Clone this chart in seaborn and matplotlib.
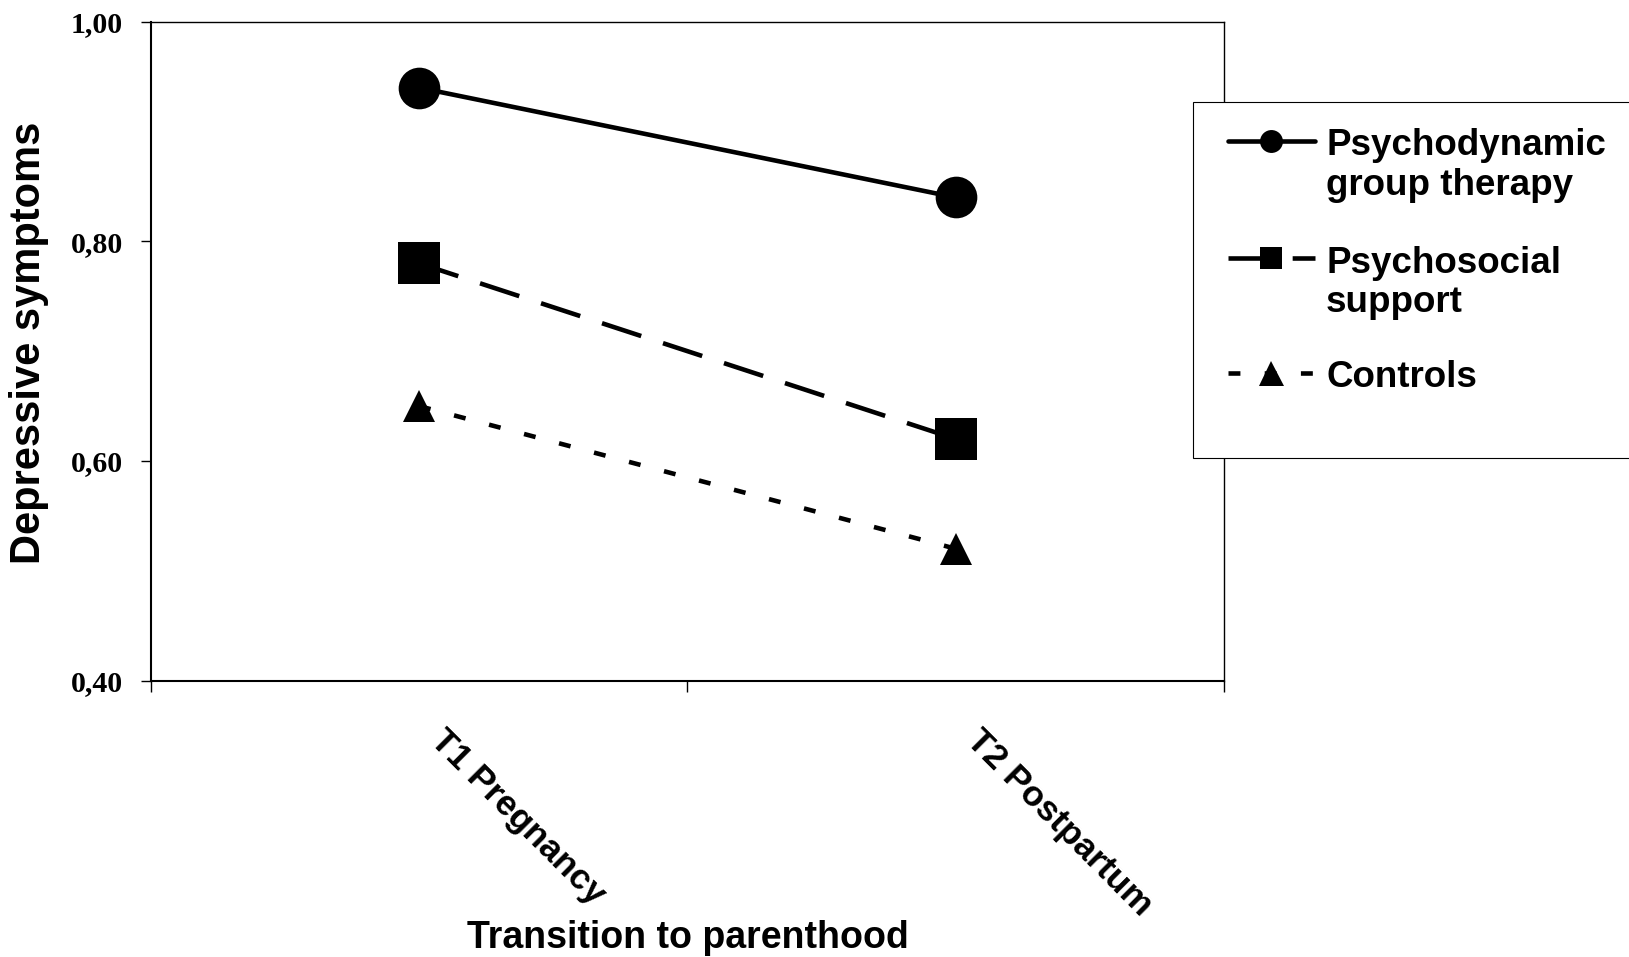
import pandas as pd
import seaborn as sns
import matplotlib.pyplot as plt
from matplotlib.lines import Line2D
from matplotlib.patches import Rectangle
from matplotlib.transforms import ScaledTranslation

# data
times = ["T1 Pregnancy", "T2 Postpartum"]
groups = ["Psychodynamic group therapy", "Psychosocial support", "Controls"]
psychodynamic = [0.94, 0.84]
psychosocial = [0.78, 0.62]
controls = [0.65, 0.52]
y_ticks = [0.40, 0.60, 0.80, 1.00]
y_tick_labels = ["0,40", "0,60", "0,80", "1,00"]
legend_labels = [["Psychodynamic", "group therapy"], ["Psychosocial", "support"], ["Controls"]]

df = pd.DataFrame({
    "time": times * len(groups),
    "group": [g for g in groups for _ in times],
    "value": psychodynamic + psychosocial + controls,
})

sns.set_style("ticks")
plt.rcParams["font.family"] = ["Liberation Sans", "DejaVu Sans"]
plt.rcParams["font.weight"] = "bold"
plt.rcParams["axes.labelweight"] = "bold"
for key in ["text.color", "axes.labelcolor", "xtick.color", "ytick.color", "axes.edgecolor"]:
    plt.rcParams[key] = "black"

markers = {groups[0]: "o", groups[1]: "s", groups[2]: "^"}
dashes = {groups[0]: "", groups[1]: (9, 5), groups[2]: (2.6, 5.3)}
plot_sizes = {groups[0]: 30, groups[1]: 30, groups[2]: 23}
legend_sizes = {groups[0]: 16.5, groups[1]: 16.5, groups[2]: 18}

fig = plt.figure(figsize=(16.29, 9.57), dpi=100)
ax = fig.add_axes([0.0925, 0.2889, 0.659, 0.6883])

sns.lineplot(data=df, x="time", y="value", hue="group", style="group",
             hue_order=groups, style_order=groups,
             palette={g: "black" for g in groups}, markers=markers, dashes=dashes,
             linewidth=3.3, markersize=30, markeredgewidth=0, markeredgecolor="black",
             errorbar=None, legend=False, ax=ax)
for line, g in zip(ax.lines, groups):
    line.set_markersize(plot_sizes[g])

ax.set_xlim(-0.5, 1.5)
ax.set_ylim(0.4, 1.0)
ax.set_yticks(y_ticks)
ax.set_yticklabels(y_tick_labels, fontfamily="Liberation Serif", fontsize=21.5, fontweight="bold")
ax.set_xticks([0, 1])
ax.set_xticklabels(times, rotation=-45, ha="left", va="top", rotation_mode="anchor", fontsize=25.5)
ax.set_xticks([-0.5, 0.5, 1.5], minor=True)
ax.tick_params(axis="x", which="major", length=0, pad=31)
ax.tick_params(axis="x", which="minor", length=8, width=1, direction="out")
ax.tick_params(axis="y", length=7.5, width=1, pad=12.7, direction="out")
shift = ScaledTranslation(0.28, 0, fig.dpi_scale_trans)
for lab in ax.get_xticklabels():
    lab.set_transform(lab.get_transform() + shift)

for side in ["left", "bottom"]:
    ax.spines[side].set_linewidth(1.5)
for side in ["top", "right"]:
    ax.spines[side].set_linewidth(1.0)
for side in ax.spines:
    ax.spines[side].set_visible(True)

ax.set_ylabel("Depressive symptoms", fontsize=30)
ax.yaxis.set_label_coords(-0.0947, 0.512)
ax.set_xlabel("Transition to parenthood", fontsize=27)
ax.xaxis.set_label_coords(0.5, -0.363)

# legend box drawn by hand (Excel style, runs off the right edge)
fig.add_artist(Rectangle((0.7322, 0.5214), 0.3, 0.372, transform=fig.transFigure,
                         facecolor="white", edgecolor="black", lw=0.8))
handle_y = [0.8527, 0.7304, 0.6102]
text_y = [[0.8380, 0.7962], [0.7150, 0.6743], [0.5959]]
for g, hy, labels, ty in zip(groups, handle_y, legend_labels, text_y):
    h = Line2D([0.7538, 0.8073], [hy, hy], transform=fig.transFigure, color="black", lw=3.3)
    h.set_dashes(dashes[g])
    fig.add_artist(h)
    fig.add_artist(Line2D([0.7805], [hy], transform=fig.transFigure, linestyle="none",
                          marker=markers[g], markersize=legend_sizes[g], color="black", mew=0))
    for txt, y in zip(labels, ty):
        fig.text(0.8140, y, txt, fontsize=26.5, ha="left", va="baseline")

fig.savefig("out.png", dpi=100)
